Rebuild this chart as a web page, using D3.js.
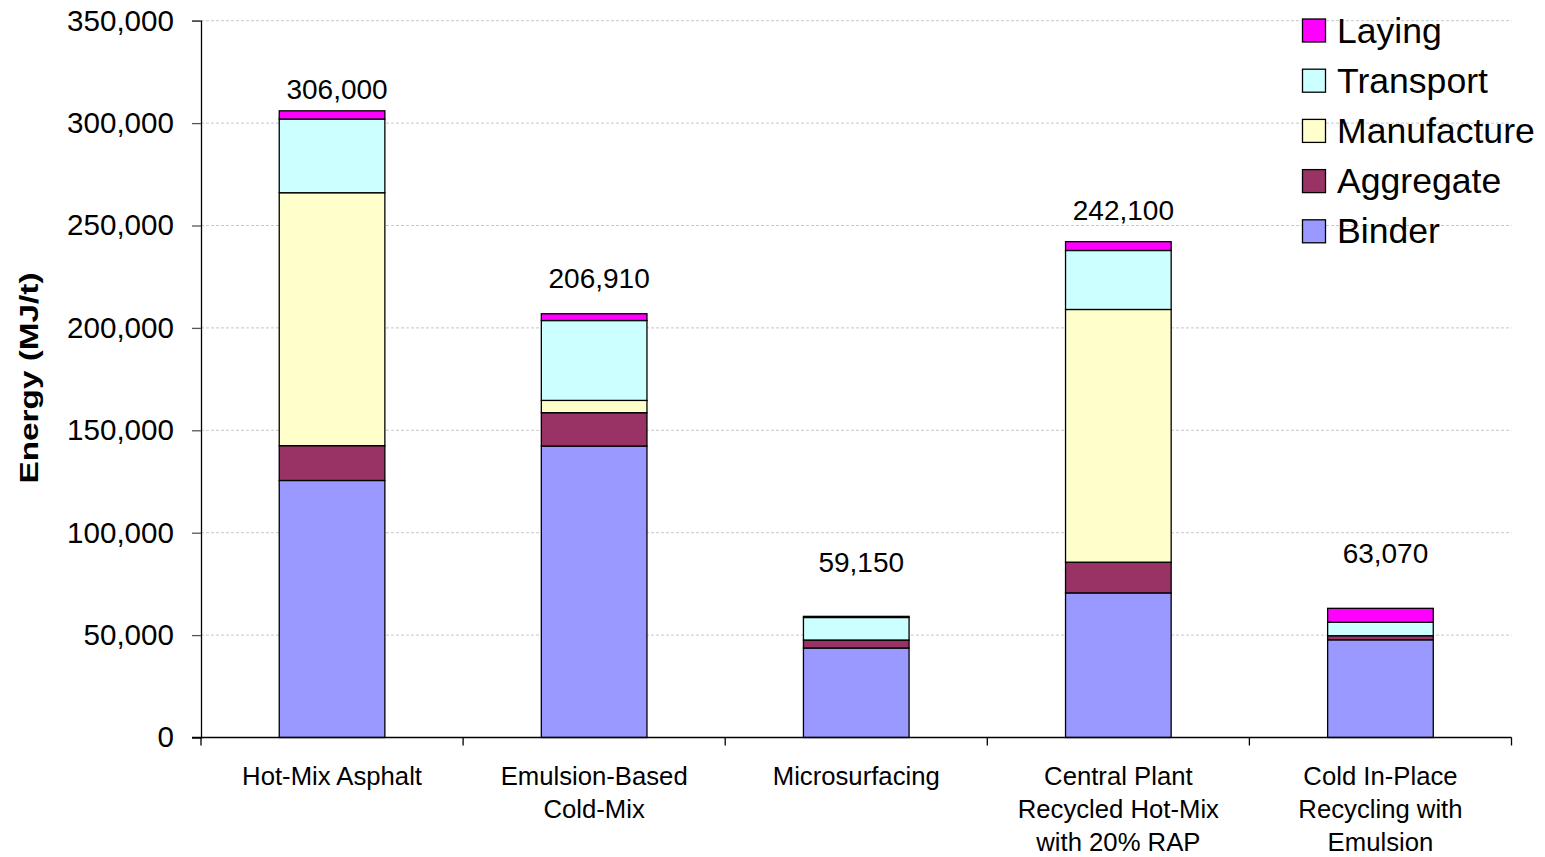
<!DOCTYPE html>
<html>
<head>
<meta charset="utf-8">
<script src="https://cdn.jsdelivr.net/npm/d3@7"></script>
<style>
  html, body { margin: 0; padding: 0; background: #fff; }
  svg { display: block; font-family: Arial, "Liberation Sans", sans-serif; }
</style>
</head>
<body>
<svg id="chart" width="1545" height="857"></svg>
<script>
// Paving methods (category labels, split into lines)
const categories = [
  ["Hot-Mix Asphalt"],
  ["Emulsion-Based", "Cold-Mix"],
  ["Microsurfacing"],
  ["Central Plant", "Recycled Hot-Mix", "with 20% RAP"],
  ["Cold In-Place", "Recycling with", "Emulsion"]
];

// Energy per stage, MJ/t, stacked bottom to top
const binder      = [125500, 142300, 43700, 70600, 47700];
const aggregate   = [17000,  16300,  3900,  15000, 2000];
const manufacture = [123500, 6000,   0,     123400, 0];
const transport   = [36000,  39000,  11000, 28800, 6600];
const laying      = [4000,   3310,   550,   4300,  6770];

// Totals printed above each bar
const totals = [306000, 206910, 59150, 242100, 63070];
// Height (MJ/t) at which each total is written
const totalLabelAt = [316800, 224200, 85600, 257800, 90000];

const seriesNames = ["Binder", "Aggregate", "Manufacture", "Transport", "Laying"];
const seriesValues = [binder, aggregate, manufacture, transport, laying];
const seriesColors = ["#9999FF", "#993366", "#FFFFCC", "#CCFFFF", "#FF00FF"];

const yTicks = [0, 50000, 100000, 150000, 200000, 250000, 300000, 350000];

const svg = d3.select("#chart");
const plotLeft = 201, plotRight = 1511.5, plotTop = 20.7, plotBottom = 737.5;

const x = d3.scaleBand().domain(d3.range(categories.length)).range([plotLeft, plotRight]).padding(0);
const barW = x.bandwidth() * 0.403;
const y = d3.scaleLinear().domain([0, 350000]).range([plotBottom, plotTop]);

// Stack the series
const rows = categories.map((c, i) => {
  const r = { i };
  seriesNames.forEach((n, k) => r[n] = seriesValues[k][i]);
  return r;
});
const stacked = d3.stack().keys(seriesNames)(rows);

// Gridlines
svg.append("g")
  .selectAll("line")
  .data(yTicks.filter(t => t > 0))
  .join("line")
  .attr("x1", plotLeft).attr("x2", plotRight)
  .attr("y1", d => y(d)).attr("y2", d => y(d))
  .attr("stroke", "#c8c8c8")
  .attr("stroke-width", 1)
  .attr("stroke-dasharray", "3,2");

// Bars
const color = d3.scaleOrdinal(seriesNames, seriesColors);
svg.append("g")
  .selectAll("g")
  .data(stacked)
  .join("g")
  .attr("fill", d => color(d.key))
  .selectAll("rect")
  .data(d => d.filter(s => s[1] - s[0] > 0))
  .join("rect")
  .attr("x", d => x(d.data.i) + (x.bandwidth() - barW) / 2)
  .attr("width", barW)
  .attr("y", d => y(d[1]))
  .attr("height", d => y(d[0]) - y(d[1]))
  .attr("stroke", "#000")
  .attr("stroke-width", 1.3);

// Y axis
const yAxis = svg.append("g")
  .attr("transform", `translate(${plotLeft},0)`)
  .call(d3.axisLeft(y).tickValues(yTicks).tickSize(9).tickPadding(18)
    .tickFormat(d3.format(",")));
yAxis.select(".domain").attr("stroke", "#000").attr("stroke-width", 1.3);
yAxis.selectAll(".tick line").attr("stroke", "#555").attr("stroke-width", 1.3);
yAxis.selectAll("text")
  .attr("font-size", 29.6)
  .attr("font-family", "Arial, 'Liberation Sans', sans-serif")
  .attr("fill", "#000");

// X axis with ticks at the category boundaries
const xAxisG = svg.append("g");
xAxisG.append("line")
  .attr("x1", plotLeft - 9).attr("x2", plotRight)
  .attr("y1", plotBottom).attr("y2", plotBottom)
  .attr("stroke", "#000").attr("stroke-width", 1.3);
const boundaries = d3.range(categories.length + 1).map(i => i < categories.length ? x(i) : plotRight);
xAxisG.selectAll("line.tick")
  .data(boundaries)
  .join("line")
  .attr("class", "tick")
  .attr("x1", d => d).attr("x2", d => d)
  .attr("y1", plotBottom).attr("y2", plotBottom + 8)
  .attr("stroke", "#000").attr("stroke-width", 1.3);

// Category labels
const catG = svg.append("g");
categories.forEach((lines, i) => {
  const cx = x(i) + x.bandwidth() / 2;
  const t = catG.append("text")
    .attr("x", cx)
    .attr("y", 784.5)
    .attr("text-anchor", "middle")
    .attr("font-size", 25.7)
    .attr("fill", "#000");
  lines.forEach((ln, j) => {
    t.append("tspan").attr("x", cx).attr("dy", j === 0 ? 0 : 33).text(ln);
  });
});

// Totals above bars
svg.append("g")
  .selectAll("text")
  .data(totals)
  .join("text")
  .attr("x", (d, i) => x(i) + x.bandwidth() / 2 + 5)
  .attr("y", (d, i) => y(totalLabelAt[i]))
  .attr("dy", "0.36em")
  .attr("text-anchor", "middle")
  .attr("font-size", 28)
  .attr("fill", "#000")
  .text(d => d3.format(",")(d));

// Y axis title
svg.append("text")
  .attr("transform", "translate(38,378) rotate(-90)")
  .attr("text-anchor", "middle")
  .attr("font-size", 25)
  .attr("font-weight", "bold")
  .attr("textLength", 211)
  .attr("lengthAdjust", "spacingAndGlyphs")
  .attr("fill", "#000")
  .text("Energy (MJ/t)");

// Legend (top series first)
const legendOrder = seriesNames.slice().reverse();
const leg = svg.append("g");
legendOrder.forEach((n, i) => {
  const cy = 30.5 + i * 50.2;
  leg.append("rect")
    .attr("x", 1302.5).attr("y", cy - 11.5)
    .attr("width", 23).attr("height", 23)
    .attr("fill", color(n))
    .attr("stroke", "#000").attr("stroke-width", 1.3);
  leg.append("text")
    .attr("x", 1337).attr("y", cy + 12)
    .attr("font-size", 35.6)
    .attr("fill", "#000")
    .text(n);
});
</script>
</body>
</html>
